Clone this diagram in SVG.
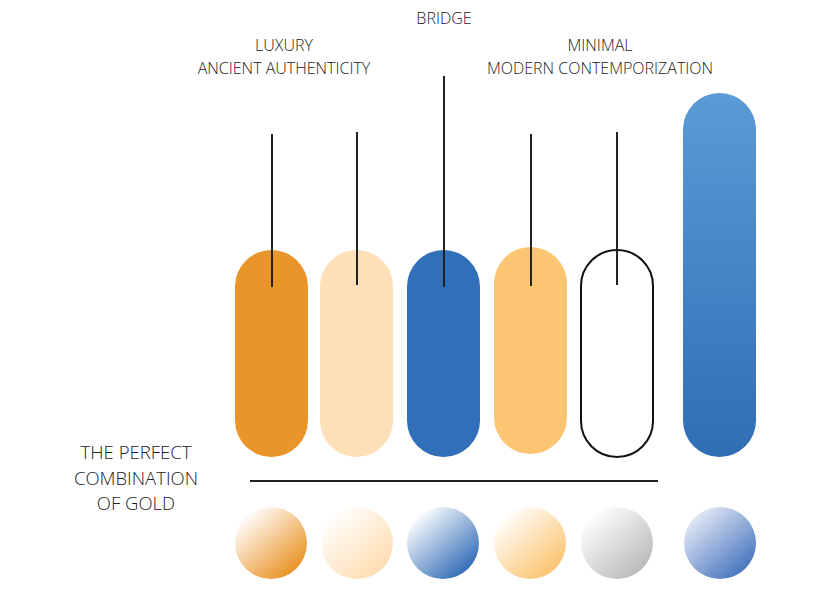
<svg xmlns="http://www.w3.org/2000/svg" width="830" height="590" viewBox="0 0 830 590">
<defs>
<style>
text{font-family:"Open Sans","Liberation Sans",sans-serif;fill:#222;text-anchor:middle;font-weight:300}
.t1{font-size:16px}
.t2{font-size:18.5px}
.ln{stroke:#222;stroke-width:2;fill:none}
</style>
<linearGradient id="gBig" x1="0" y1="0" x2="0" y2="1"><stop offset="0" stop-color="#5b9bd5"/><stop offset="1" stop-color="#2f6db5"/></linearGradient>
<linearGradient id="c1" x1="0.15" y1="0.1" x2="0.85" y2="0.9"><stop offset="0" stop-color="#fff"/><stop offset="1" stop-color="#e8901f"/></linearGradient>
<linearGradient id="c2" x1="0.15" y1="0.1" x2="0.85" y2="0.9"><stop offset="0" stop-color="#fff"/><stop offset="1" stop-color="#fddcae"/></linearGradient>
<linearGradient id="c3" x1="0.15" y1="0.1" x2="0.85" y2="0.9"><stop offset="0" stop-color="#fff"/><stop offset="1" stop-color="#2e6ab5"/></linearGradient>
<linearGradient id="c4" x1="0.15" y1="0.1" x2="0.85" y2="0.9"><stop offset="0" stop-color="#fff"/><stop offset="1" stop-color="#fbc36c"/></linearGradient>
<linearGradient id="c5" x1="0.15" y1="0.1" x2="0.85" y2="0.9"><stop offset="0" stop-color="#fff"/><stop offset="1" stop-color="#b9b9b9"/></linearGradient>
<linearGradient id="c6" x1="0.15" y1="0.1" x2="0.85" y2="0.9"><stop offset="0" stop-color="#e6eaf7"/><stop offset="1" stop-color="#4473bd"/></linearGradient>
</defs>
<rect width="830" height="590" fill="#fff"/>
<g id="labels">
<text class="t1" x="444" y="24">BRIDGE</text>
<text class="t1" x="284" y="51">LUXURY</text>
<text class="t1" x="284" y="74">ANCIENT AUTHENTICITY</text>
<text class="t1" x="600" y="51">MINIMAL</text>
<text class="t1" x="600" y="74">MODERN CONTEMPORIZATION</text>
<text class="t2" x="136" y="459">THE PERFECT</text>
<text class="t2" x="136" y="485">COMBINATION</text>
<text class="t2" x="136" y="510">OF GOLD</text>
</g>
<g id="pill1"><rect x="235" y="250" width="73" height="207" rx="36.5" fill="#e9952a"/></g>
<g id="pill2"><rect x="320" y="250" width="73" height="207" rx="36.5" fill="#fde0b7"/></g>
<g id="pill3"><rect x="407" y="250" width="73" height="207" rx="36.5" fill="#3170b8"/></g>
<g id="pill4"><rect x="494" y="247" width="73" height="207" rx="36.5" fill="#fbc572"/></g>
<g id="pill5"><rect x="581" y="250" width="72" height="207" rx="36" fill="#fff" stroke="#111" stroke-width="2"/></g>
<g id="pill6"><rect x="683" y="93" width="73" height="364" rx="36.5" fill="url(#gBig)"/></g>
<g id="connectors">
<line class="ln" x1="272" y1="134" x2="272" y2="287"/>
<line class="ln" x1="357" y1="132" x2="357" y2="285"/>
<line class="ln" x1="444" y1="76" x2="444" y2="287"/>
<line class="ln" x1="531" y1="134" x2="531" y2="286"/>
<line class="ln" x1="617" y1="132" x2="617" y2="285"/>
<line class="ln" x1="250" y1="481" x2="658" y2="481"/>
</g>
<g id="swatches">
<circle cx="271" cy="543" r="36" fill="url(#c1)"/>
<circle cx="357" cy="543" r="36" fill="url(#c2)"/>
<circle cx="443" cy="543" r="36" fill="url(#c3)"/>
<circle cx="530" cy="543" r="36" fill="url(#c4)"/>
<circle cx="617" cy="543" r="36" fill="url(#c5)"/>
<circle cx="720" cy="543" r="36" fill="url(#c6)"/>
</g>
</svg>
